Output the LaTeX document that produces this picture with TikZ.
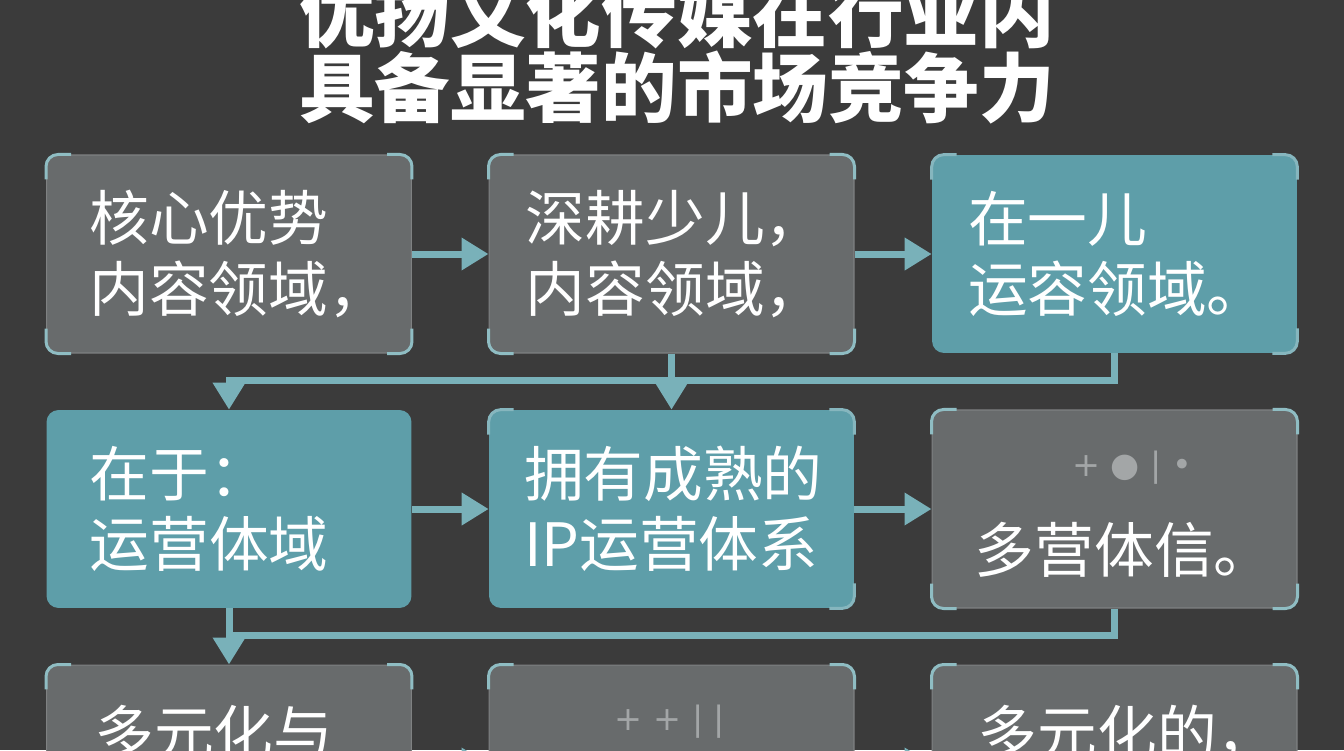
\documentclass[tikz,border=0pt]{standalone}
\usepackage{fontspec}
\newfontfamily\cjk{Noto Sans CJK SC}
\newfontfamily\symfont{DejaVu Sans}
\usetikzlibrary{positioning,arrows.meta}

\definecolor{bgdark}{HTML}{3B3B3B}
\definecolor{boxgrey}{HTML}{686B6C}
\definecolor{boxteal}{HTML}{5E9EA9}
\definecolor{flowteal}{HTML}{79B1B9}
\definecolor{cornerteal}{HTML}{8FBDC3}
\definecolor{symgrey}{HTML}{A3A6A7}

\tikzset{
			card/.style={rectangle, rounded corners=0.24cm, minimum width=7.3cm, minimum height=3.96cm, inner sep=0pt},
			greycard/.style={card, fill=boxgrey, draw=boxgrey!85!white, line width=0.6pt},
			tealcard/.style={card, fill=boxteal},
			txt/.style={font=\cjk\fontsize{34}{40}\selectfont, text=white, align=left, inner sep=0pt},
			heading/.style={font=\cjk\bfseries\fontsize{43}{43.2}\selectfont, text=white, align=center, inner sep=0pt},
			sym/.style={font=\symfont\fontsize{19}{19}\selectfont, text=symgrey, inner sep=0pt},
			flow/.style={draw=flowteal, line width=0.14cm, -{Triangle[length=0.54cm, width=0.62cm]}},
			link/.style={draw=flowteal, line width=0.14cm},
			corner/.style={draw=cornerteal, line width=0.06cm, rounded corners=0.24cm}
		}

\begin{document}
\begin{tikzpicture}[x=0.02cm, y=-0.02cm]

			% Canvas
			\useasboundingbox (0,0) rectangle (1344,750);
			\clip (0,0) rectangle (1344,750);
			\fill[bgdark] (0,0) rectangle (1344,750);

			% Heading
			\node[heading] (title) at (677,50) {优扬文化传媒在行业内\\具备显著的市场竞争力};

			% Cards in a 3x3 grid
			\node[greycard] (b1) at (229,254) {};
			\node[greycard] (b2) at (671.5,254) {};
			\node[tealcard] (b3) at (1114.5,254) {};
			\node[tealcard] (b4) at (229,509) {};
			\node[tealcard] (b5) at (671.5,509) {};
			\node[greycard] (b6) at (1114.5,509) {};
			\node[greycard] (b7) at (229,764) {};
			\node[greycard] (b8) at (671.5,764) {};
			\node[greycard] (b9) at (1114.5,764) {};

			% Corner brackets
			\foreach \c in {b1,b2,b6,b7,b8,b9} {
				\draw[corner] ([yshift=-0.5cm]\c.north west) -- (\c.north west) -- ([xshift=0.5cm]\c.north west);
				\draw[corner] ([xshift=-0.5cm]\c.north east) -- (\c.north east) -- ([yshift=-0.5cm]\c.north east);
				\draw[corner] ([yshift=0.5cm]\c.south east) -- (\c.south east) -- ([xshift=-0.5cm]\c.south east);
				\draw[corner] ([xshift=0.5cm]\c.south west) -- (\c.south west) -- ([yshift=0.5cm]\c.south west);
			}
			\foreach \c in {b3,b5} {
				\draw[corner, draw=boxteal!75!white] ([xshift=-0.5cm]\c.north east) -- (\c.north east) -- ([yshift=-0.5cm]\c.north east);
				\draw[corner, draw=boxteal!75!white] ([yshift=0.5cm]\c.south east) -- (\c.south east) -- ([xshift=-0.5cm]\c.south east);
				\draw[corner, draw=boxteal!75!white] ([yshift=-0.5cm]\c.north west) -- (\c.north west) -- ([xshift=0.5cm]\c.north west);
			}

			% Card texts
			\node[txt, right=0.86cm of b1.west] (t1) {核心优势\\内容领域，};
			\node[txt, right=0.74cm of b2.west] (t2) {深耕少儿，\\内容领域，};
			\node[txt, right=0.72cm of b3.west] (t3) {在一儿\\运容领域。};
			\node[txt, right=0.86cm of b4.west] (t4) {在于：\\运营体域};
			\node[txt, right=0.70cm of b5.west] (t5) {拥有成熟的\\IP运营体系};
			\node[sym] (s6) at (1132,468) {+ ● | •};
			\node[txt, right=0.86cm of b6.west, yshift=-0.82cm] (t6) {多营体信。};
			\node[txt, right=0.96cm of b7.west, yshift=0.62cm] (t7) {多元化与};
			\node[sym] (s8) at (670,722) {+ + | |};
			\node[txt, right=0.92cm of b9.west, yshift=0.62cm] (t9) {多元化的，};

			% Arrows along each row
			\draw[flow] (b1) -- (b2);
			\draw[flow] (b2) -- (b3);
			\draw[flow] (b4) -- (b5);
			\draw[flow] (b5) -- (b6);
			\draw[flow] (b7) -- (b8);
			\draw[flow] (b8) -- (b9);

			% Links between rows
			\draw[flow] (b2) -- (b5);
			\draw[flow] (b3.south) -- ++(0,27) -| (b4.north);
			\draw[link] (b4.south) -- ++(0,27);
			\draw[flow] (b6.south) -- ++(0,27) -| (b7.north);

		\end{tikzpicture}
\end{document}
